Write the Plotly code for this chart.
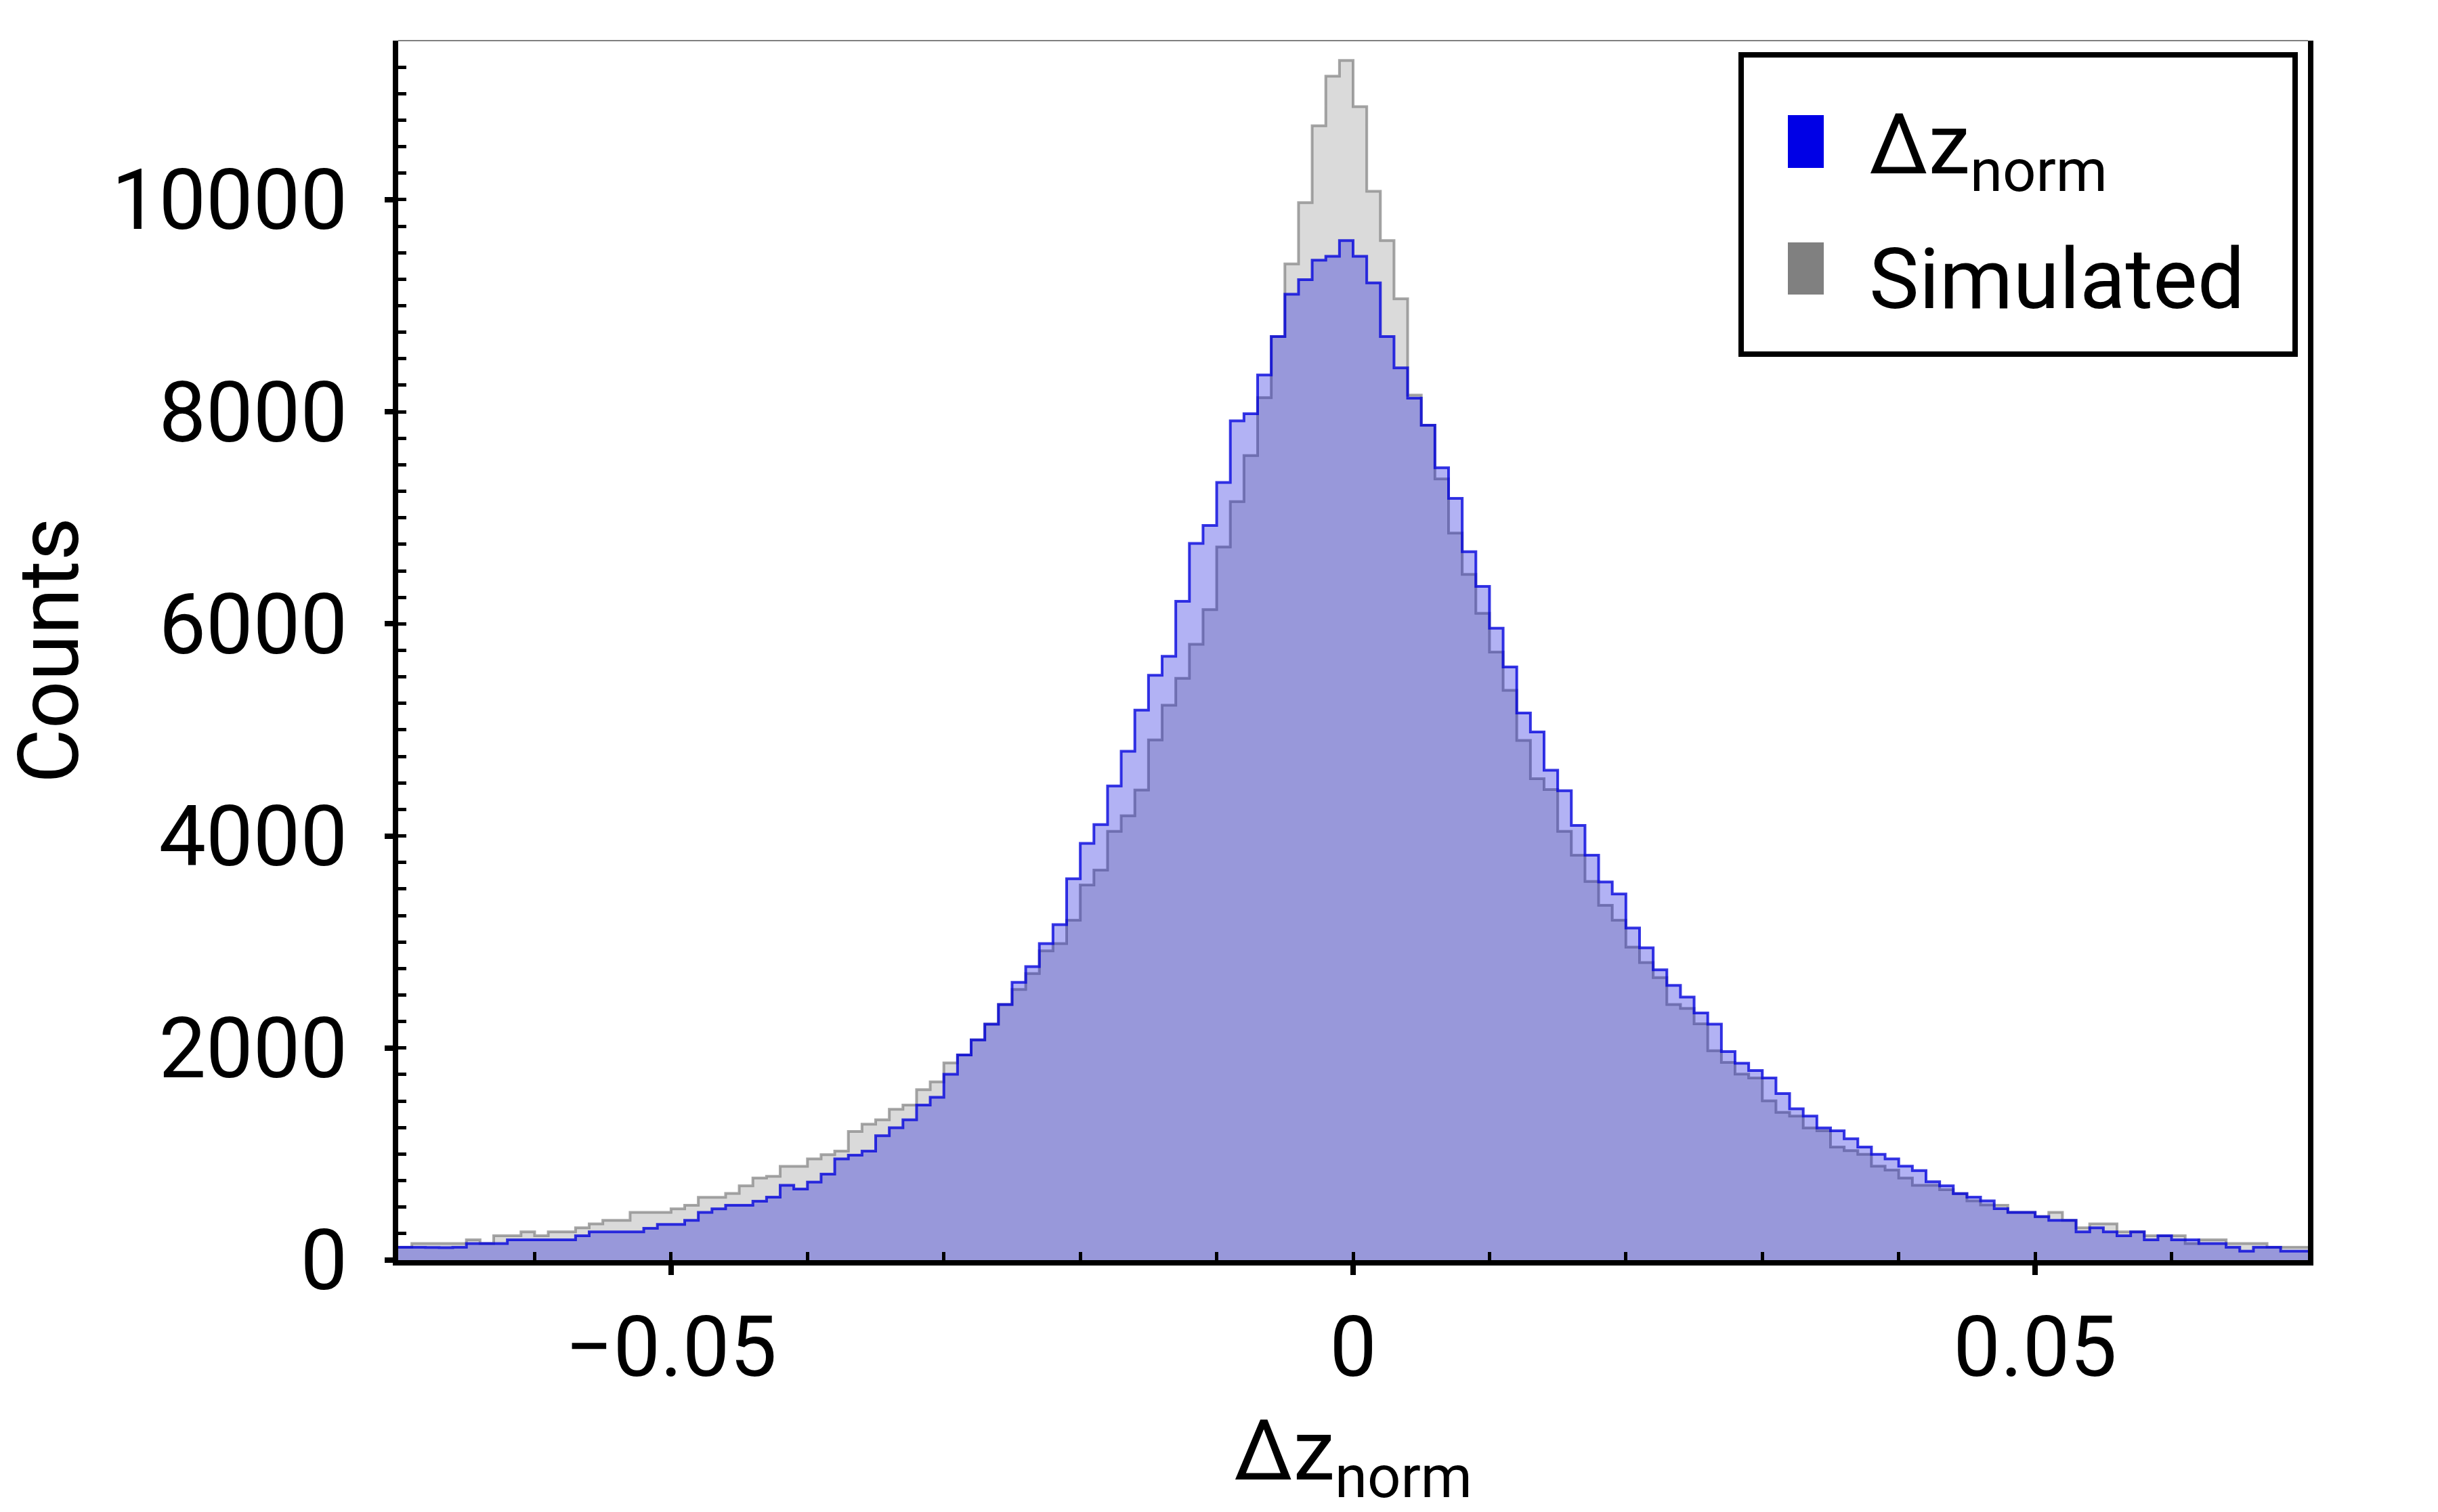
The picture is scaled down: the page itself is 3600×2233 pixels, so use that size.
import numpy as np
import plotly.graph_objects as go

# ---------------- data ----------------
bin_start = -0.07
bin_width = 0.001
n_bins = 140

dz_norm_counts = [
    122, 122, 120, 118, 122, 156, 156, 156, 192, 192,
    192, 192, 192, 230, 266, 266, 266, 266, 300, 337,
    337, 375, 450, 484, 518, 518, 556, 594, 706, 671,
    736, 811, 954, 990, 1028, 1174, 1249, 1323, 1463, 1535,
    1752, 1934, 2077, 2226, 2410, 2619, 2768, 2985, 3164, 3596,
    3930, 4107, 4472, 4799, 5187, 5515, 5694, 6213, 6759, 6928,
    7333, 7914, 7981, 8348, 8709, 9109, 9246, 9429, 9466, 9615,
    9466, 9215, 8709, 8415, 8129, 7873, 7472, 7184, 6680, 6353,
    5959, 5593, 5159, 4980, 4619, 4427, 4100, 3819, 3566, 3453,
    3132, 2946, 2738, 2591, 2480, 2330, 2225, 1967, 1857, 1788,
    1718, 1571, 1427, 1358, 1246, 1219, 1144, 1066, 997, 955,
    886, 845, 739, 700, 628, 594, 558, 486, 450, 450,
    411, 375, 375, 267, 305, 267, 230, 267, 192, 230,
    192, 192, 156, 156, 122, 85, 122, 122, 85, 85,
]

simulated_counts = [
    122, 156, 156, 156, 156, 192, 156, 230, 230, 266,
    230, 266, 266, 305, 341, 375, 375, 450, 450, 450,
    484, 518, 593, 593, 629, 701, 774, 790, 885, 885,
    954, 995, 1028, 1213, 1282, 1323, 1422, 1463, 1608, 1681,
    1859, 1934, 2077, 2226, 2410, 2553, 2703, 2917, 2985, 3205,
    3537, 3678, 4044, 4191, 4433, 4906, 5233, 5486, 5807, 6134,
    6725, 7153, 7587, 8133, 8709, 9395, 9972, 10697, 11165, 11314,
    10877, 10080, 9615, 9066, 8158, 7873, 7367, 6857, 6466, 6100,
    5734, 5374, 4900, 4540, 4438, 4044, 3819, 3571, 3346, 3205,
    2952, 2806, 2665, 2411, 2374, 2228, 1975, 1865, 1754, 1718,
    1502, 1393, 1358, 1246, 1219, 1066, 1033, 997, 886, 850,
    775, 706, 706, 664, 628, 558, 520, 518, 450, 450,
    411, 450, 375, 305, 341, 341, 267, 267, 230, 230,
    230, 156, 192, 192, 156, 156, 156, 122, 122, 122,
]

x_tick_vals = [-0.05, 0, 0.05]
x_tick_text = ["\u22120.05", "0", "0.05"]
y_tick_vals = [0, 2000, 4000, 6000, 8000, 10000]
y_tick_text = ["0", "2000", "4000", "6000", "8000", "10000"]

series_names = ["\u0394z<sub>norm</sub>", "Simulated"]

# ---------------- figure ----------------
W, H = 3600, 2233
L, R, T, B = 588, 3408, 60, 1861
X_RANGE = [-0.07, 0.07]
Y_RANGE = [0, 11500]
FONT = "Roboto"
FS = 124

edges = bin_start + bin_width * np.arange(n_bins + 1)


def step_y(counts):
    return list(counts) + [counts[-1]]


fig = go.Figure()

# Simulated (drawn first, underneath)
fig.add_trace(go.Scatter(
    x=edges, y=step_y(simulated_counts), mode="lines", line_shape="hv",
    line=dict(color="rgba(128,128,128,0.7)", width=4),
    fill="tozeroy", fillcolor="rgba(128,128,128,0.29)",
    name="Simulated", showlegend=False, xaxis="x", yaxis="y",
))
# Delta z_norm (on top)
fig.add_trace(go.Scatter(
    x=edges, y=step_y(dz_norm_counts), mode="lines", line_shape="hv",
    line=dict(color="rgba(0,0,220,0.78)", width=4),
    fill="tozeroy", fillcolor="rgba(0,0,220,0.3)",
    name="\u0394z_norm", showlegend=False, xaxis="x2", yaxis="y2",
))

axis_font = dict(family=FONT, size=FS, color="black")

fig.update_layout(
    width=W, height=H,
    margin=dict(l=L, r=W - R, t=T, b=H - B, pad=0),
    paper_bgcolor="white", plot_bgcolor="white",
    font=dict(family=FONT, size=FS, color="black"),
    showlegend=False,
    xaxis=dict(
        range=X_RANGE, tickmode="array", tickvals=x_tick_vals, ticktext=x_tick_text,
        ticks="outside", ticklen=14, tickwidth=8, tickcolor="black",
        showline=True, linewidth=8, linecolor="black", mirror=False,
        showgrid=False, zeroline=False, tickfont=axis_font,
        title=dict(text="\u0394z<sub>norm</sub>", font=dict(family=FONT, size=FS), standoff=40),
    ),
    xaxis2=dict(
        range=X_RANGE, overlaying="x", anchor="y2", side="bottom",
        tickmode="linear", tick0=0, dtick=0.01,
        ticks="inside", ticklen=12, tickwidth=5, tickcolor="black",
        showticklabels=False, showline=False, showgrid=False, zeroline=False,
    ),
    yaxis=dict(
        range=Y_RANGE, tickmode="array", tickvals=y_tick_vals, ticktext=y_tick_text,
        ticks="outside", ticklen=12, tickwidth=8, tickcolor="black",
        showline=True, linewidth=8, linecolor="black", mirror=True,
        showgrid=False, zeroline=False, tickfont=axis_font, ticklabelstandoff=30,
        title=dict(text="Counts", font=dict(family=FONT, size=FS), standoff=50),
    ),
    yaxis2=dict(
        range=Y_RANGE, overlaying="y", anchor="x2", side="left",
        tickmode="linear", tick0=0, dtick=250,
        ticks="inside", ticklen=12, tickwidth=5, tickcolor="black",
        showticklabels=False, showline=False, showgrid=False, zeroline=False,
    ),
)


def px_x(px):
    return (px - L) / (R - L)


def px_y(py):
    return (B - py) / (B - T)


shapes = [
    # thin top frame line
    dict(type="line", xref="paper", yref="paper", x0=0, x1=1, y0=1, y1=1,
         line=dict(color="#808080", width=2)),
    # legend box
    dict(type="rect", xref="paper", yref="paper",
         x0=px_x(2571), x1=px_x(3389), y0=px_y(523), y1=px_y(81),
         line=dict(color="black", width=8), fillcolor="white", layer="above"),
    # legend patches
    dict(type="rect", xref="paper", yref="paper",
         x0=px_x(2640), x1=px_x(2693), y0=px_y(248), y1=px_y(170),
         line=dict(width=0), fillcolor="rgb(0,0,230)", layer="above"),
    dict(type="rect", xref="paper", yref="paper",
         x0=px_x(2640), x1=px_x(2693), y0=px_y(435), y1=px_y(358),
         line=dict(width=0), fillcolor="rgb(128,128,128)", layer="above"),
]
fig.update_layout(shapes=shapes)

annotations = [
    dict(text=series_names[0], xref="paper", yref="paper", x=px_x(2758), y=px_y(222),
         xanchor="left", yanchor="middle", showarrow=False,
         font=dict(family=FONT, size=FS, color="black")),
    dict(text=series_names[1], xref="paper", yref="paper", x=px_x(2758), y=px_y(412),
         xanchor="left", yanchor="middle", showarrow=False,
         font=dict(family=FONT, size=FS, color="black")),
]
fig.update_layout(annotations=annotations)

fig.write_html("out.html", config={"displayModeBar": False},
               post_script="document.body.style.margin='0';")
